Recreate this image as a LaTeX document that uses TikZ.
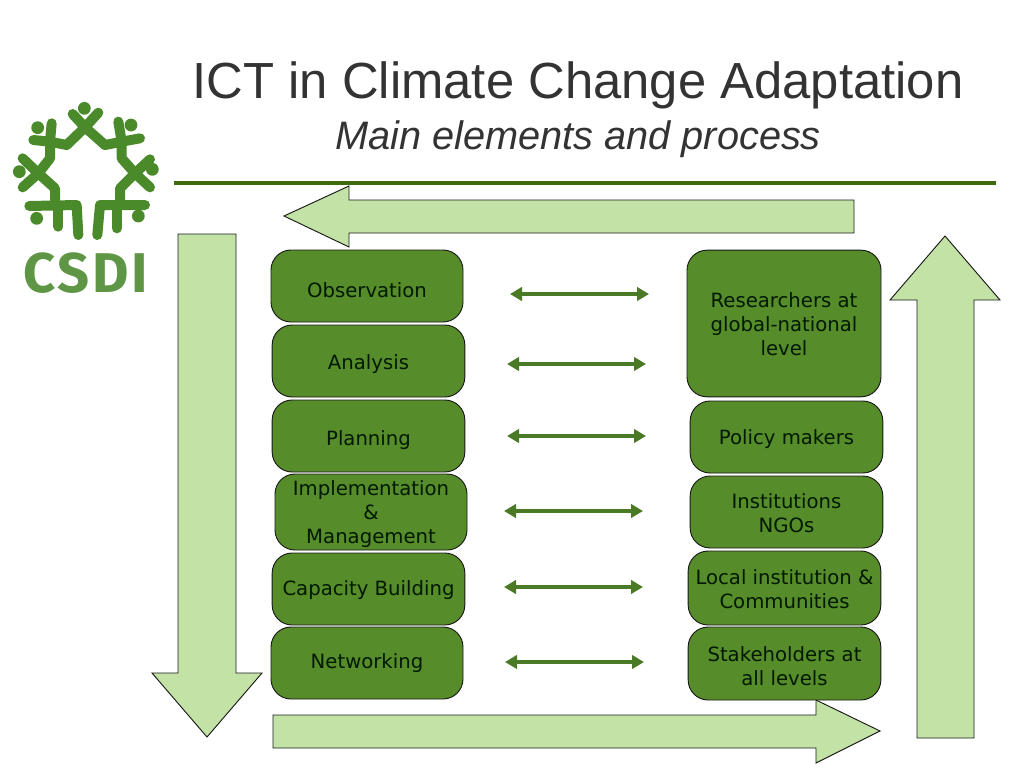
\documentclass[tikz,border=0pt]{standalone}
\usepackage{fontspec}
\setmainfont{Liberation Sans}
\newfontfamily\boxfont{DejaVu Sans}
\newfontfamily\logofont{Fira Sans}
\usetikzlibrary{arrows.meta}
\definecolor{boxgreen}{HTML}{568C2A}
\definecolor{palegreen}{HTML}{C3E3A6}
\definecolor{rulegreen}{HTML}{3F6B0E}
\definecolor{linkgreen}{HTML}{4B7A26}
\definecolor{logogreen}{HTML}{4A8A2A}
\definecolor{logotext}{HTML}{5F9645}
\definecolor{titlegray}{HTML}{333333}
% pushes a first line down by #1 pixels
\newcommand{\drop}[1]{\rule{0pt}{\dimexpr 11.2pt+#1pt*3/2\relax}}

\begin{document}
\begin{tikzpicture}[
    x=0.75pt, y=-0.75pt,
    stage/.style={draw=black!90, fill=boxgreen, rounded corners=15pt, align=center, font=\boxfont\fontsize{14.75}{18}\selectfont, text=black!90!green, inner sep=0pt, line width=0.7pt},
    link/.style={{Triangle[length=9pt,width=10pt]}-{Triangle[length=9pt,width=10pt]}, draw=linkgreen, line width=3pt},
    bigarrow/.style={draw=black!90, fill=palegreen, line width=0.7pt},
    figure/.style={draw=logogreen, line width=7.5pt, line join=round, line cap=round}
  ]
    \useasboundingbox (0,0) rectangle (1024,768);

    % Title
    \node[text=titlegray, font=\fontsize{38.1}{40}\selectfont] (title) at (578,85) {ICT in Climate Change Adaptation};
    \node[text=titlegray, font=\itshape\fontsize{29.8}{30}\selectfont] (subtitle) at (578,139) {Main elements and process};
    \draw[rulegreen, line width=2.4pt] (174,183) -- (996,183);

    % Logo (coordinates in zoomed pixels)
    \begin{scope}[x=0.25pt, y=-0.25pt, shift={(0,270)}]
      \draw[figure] (218,72) -- (255,112) -- (295,68);
      \draw[figure] (255,112) -- (200,165) -- (150,155) -- (155,100);
      \draw[figure] (100,150) -- (150,155) -- (150,205) -- (115,250) -- (165,295) -- (165,345);
      \draw[figure] (68,205) -- (115,250) -- (68,292);
      \draw[figure] (88,348) -- (230,345) -- (235,435);
      \draw[figure] (175,350) -- (175,410);
      \draw[figure] (255,112) -- (315,165) -- (365,155) -- (355,95);
      \draw[figure] (420,145) -- (365,155) -- (365,205) -- (405,250) -- (360,295) -- (360,345);
      \draw[figure] (450,208) -- (405,250) -- (450,292);
      \draw[figure] (435,345) -- (300,345) -- (292,435);
      \draw[figure] (350,345) -- (350,415);
      \foreach \px/\py in {253/55,113/113,393/105,58/245,457/238,110/385,415/378} {
        \fill[logogreen] (\px,\py) circle (4.8pt);
      }
    \end{scope}
    \node[text=logotext, font=\logofont\bfseries\fontsize{42}{44}\selectfont] (csdi) at (85.5,273.5) {\addfontfeature{LetterSpace=5}CSDI};

    % Big arrows
    \draw[bigarrow] (854,200) -- (349,200) -- (349,186) -- (284,216) -- (349,247) -- (349,233) -- (854,233) -- cycle;
    \draw[bigarrow] (178,234) -- (236,234) -- (236,673) -- (262,673) -- (207,737) -- (152,673) -- (178,673) -- cycle;
    \draw[bigarrow] (273,715) -- (816,715) -- (816,700) -- (880,731) -- (816,763) -- (816,748) -- (273,748) -- cycle;
    \draw[bigarrow] (917,738) -- (917,300) -- (890,300) -- (945,236) -- (1000,300) -- (974,300) -- (974,738) -- cycle;

    % Left column
    \node[stage, minimum width=144pt, minimum height=54pt] (obs) at (367,286) {\drop{4}Observation};
    \node[stage, minimum width=144.5pt, minimum height=54pt] (ana) at (368.5,361) {\drop{3}Analysis};
    \node[stage, minimum width=144.5pt, minimum height=54pt] (pla) at (368.5,436) {\drop{4}Planning};
    \node[stage, minimum width=144pt, minimum height=57pt] (imp) at (371,512) {\drop{2}Implementation\\\&\\Management};
    \node[stage, minimum width=144.5pt, minimum height=54pt] (cap) at (368.5,589) {\drop{1}Capacity Building};
    \node[stage, minimum width=144pt, minimum height=54pt] (net) at (367,663) {Networking};

    % Right column
    \node[stage, minimum width=145.5pt, minimum height=110pt] (res) at (784,323.5) {\drop{1}Researchers at\\global-national\\level};
    \node[stage, minimum width=144.5pt, minimum height=54pt] (pol) at (786.5,437) {\drop{2}Policy makers};
    \node[stage, minimum width=144.5pt, minimum height=54pt] (ins) at (786.5,512) {\drop{1}Institutions\\NGOs};
    \node[stage, minimum width=144.5pt, minimum height=55.5pt] (loc) at (784.5,588) {\drop{1}Local institution \&\\Communities};
    \node[stage, minimum width=144.5pt, minimum height=54.75pt] (sta) at (784.5,663.5) {\drop{3}Stakeholders at\\all levels};

    % Links between the columns
    \foreach \a/\xa/\xb/\ya in {a/510/649/294,b/507/646/364,c/507/646/436,d/504/643/511,e/504/643/587,f/505/644/662} {
      \coordinate (\a l) at (\xa,\ya);
      \coordinate (\a r) at (\xb,\ya);
      \draw[link] (\a l) -- (\a r);
    }
  \end{tikzpicture}
\end{document}
